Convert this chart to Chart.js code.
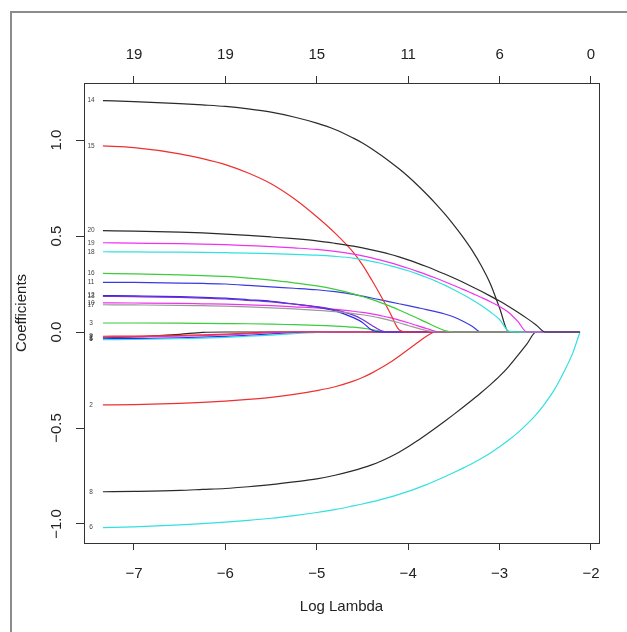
<!DOCTYPE html>
<html>
<head>
<meta charset="utf-8">
<script src="https://cdn.jsdelivr.net/npm/chart.js@4.4.1/dist/chart.umd.min.js"></script>
<style>
html, body { margin: 0; padding: 0; background: #fff; }
</style>
</head>
<body>
<canvas id="mycanvas" width="627" height="632"></canvas>
<script>
// log(lambda) grid shared by every path
var logLambda = [-7.34, -7.0, -6.5, -6.25, -6.0, -5.75, -5.5, -5.25, -5.0, -4.8, -4.6, -4.5, -4.4, -4.3, -4.2, -4.1,
	-4.0, -3.9, -3.8, -3.7, -3.6, -3.5, -3.4, -3.3, -3.2, -3.1, -3.0, -2.9, -2.8, -2.7, -2.6, -2.5, -2.4, -2.3, -2.2, -2.12];

var xTicks = [-7, -6, -5, -4, -3, -2];
var topCounts = ["19", "19", "15", "11", "6", "0"];
var yTicks = [-1.0, -0.5, 0.0, 0.5, 1.0];

// coefficient paths (one per variable)
var coef20 = [0.528, 0.525, 0.520, 0.516, 0.510, 0.503, 0.495, 0.486, 0.475, 0.462, 0.447, 0.438, 0.428, 0.417, 0.405, 0.391, 0.376, 0.359, 0.341, 0.322, 0.302, 0.281, 0.259, 0.236, 0.212, 0.187, 0.161, 0.133, 0.103, 0.071, 0.037, 0, 0, 0, 0, 0];
var coef19 = [0.465, 0.463, 0.460, 0.458, 0.455, 0.450, 0.445, 0.438, 0.430, 0.420, 0.406, 0.397, 0.386, 0.374, 0.361, 0.347, 0.332, 0.316, 0.299, 0.281, 0.262, 0.242, 0.222, 0.201, 0.180, 0.158, 0.133, 0.102, 0.055, 0, 0, 0, 0, 0, 0, 0];
var coef18 = [0.418, 0.417, 0.416, 0.415, 0.413, 0.411, 0.408, 0.404, 0.400, 0.394, 0.385, 0.377, 0.368, 0.358, 0.346, 0.333, 0.319, 0.303, 0.285, 0.265, 0.244, 0.220, 0.195, 0.168, 0.138, 0.104, 0.065, 0.005, 0, 0, 0, 0, 0, 0, 0, 0];
var coef17 = [0.142, 0.141, 0.139, 0.137, 0.135, 0.131, 0.126, 0.120, 0.113, 0.106, 0.096, 0.090, 0.082, 0.072, 0.061, 0.048, 0.034, 0.020, 0.008, 0, 0, 0, 0, 0, 0, 0, 0, 0, 0, 0, 0, 0, 0, 0, 0, 0];
var coef16 = [0.305, 0.303, 0.298, 0.294, 0.290, 0.281, 0.270, 0.256, 0.240, 0.222, 0.199, 0.185, 0.170, 0.153, 0.135, 0.115, 0.094, 0.072, 0.050, 0.027, 0.007, 0, 0, 0, 0, 0, 0, 0, 0, 0, 0, 0, 0, 0, 0, 0];
var coef15 = [0.969, 0.960, 0.928, 0.903, 0.872, 0.828, 0.772, 0.695, 0.600, 0.515, 0.415, 0.350, 0.272, 0.189, 0.102, 0.012, 0, 0, 0, 0, 0, 0, 0, 0, 0, 0, 0, 0, 0, 0, 0, 0, 0, 0, 0, 0];
var coef14 = [1.205, 1.200, 1.190, 1.183, 1.175, 1.162, 1.145, 1.120, 1.088, 1.055, 1.010, 0.985, 0.955, 0.922, 0.887, 0.850, 0.810, 0.766, 0.719, 0.669, 0.615, 0.557, 0.494, 0.425, 0.345, 0.250, 0.125, 0, 0, 0, 0, 0, 0, 0, 0, 0];
var coef13 = [0.186, 0.184, 0.180, 0.176, 0.172, 0.165, 0.157, 0.145, 0.132, 0.115, 0.088, 0.065, 0.035, 0.008, 0, 0, 0, 0, 0, 0, 0, 0, 0, 0, 0, 0, 0, 0, 0, 0, 0, 0, 0, 0, 0, 0];
var coef12 = [0.190, 0.188, 0.184, 0.180, 0.176, 0.168, 0.160, 0.146, 0.130, 0.110, 0.075, 0.050, 0.010, 0, 0, 0, 0, 0, 0, 0, 0, 0, 0, 0, 0, 0, 0, 0, 0, 0, 0, 0, 0, 0, 0, 0];
var coef11 = [0.259, 0.258, 0.255, 0.253, 0.250, 0.243, 0.235, 0.228, 0.220, 0.210, 0.196, 0.187, 0.177, 0.167, 0.157, 0.147, 0.137, 0.127, 0.117, 0.106, 0.094, 0.078, 0.056, 0.030, 0, 0, 0, 0, 0, 0, 0, 0, 0, 0, 0, 0];
var coef10 = [0.152, 0.151, 0.149, 0.147, 0.145, 0.141, 0.137, 0.131, 0.125, 0.118, 0.108, 0.102, 0.094, 0.085, 0.075, 0.062, 0.048, 0.033, 0.018, 0.004, 0, 0, 0, 0, 0, 0, 0, 0, 0, 0, 0, 0, 0, 0, 0, 0];
var coef9 = [-0.022, -0.021, -0.018, -0.015, -0.011, -0.006, 0, 0, 0, 0, 0, 0, 0, 0, 0, 0, 0, 0, 0, 0, 0, 0, 0, 0, 0, 0, 0, 0, 0, 0, 0, 0, 0, 0, 0, 0];
var coef8 = [-0.832, -0.830, -0.825, -0.820, -0.815, -0.806, -0.795, -0.781, -0.765, -0.746, -0.722, -0.708, -0.692, -0.673, -0.651, -0.626, -0.598, -0.567, -0.534, -0.500, -0.465, -0.429, -0.392, -0.354, -0.315, -0.274, -0.230, -0.180, -0.122, -0.062, 0, 0, 0, 0, 0, 0];
var coef7 = [-0.026, -0.025, -0.022, -0.019, -0.015, -0.010, -0.004, 0, 0, 0, 0, 0, 0, 0, 0, 0, 0, 0, 0, 0, 0, 0, 0, 0, 0, 0, 0, 0, 0, 0, 0, 0, 0, 0, 0, 0];
var coef6 = [-1.019, -1.015, -1.005, -0.998, -0.990, -0.981, -0.970, -0.956, -0.940, -0.925, -0.906, -0.896, -0.885, -0.873, -0.860, -0.846, -0.830, -0.813, -0.795, -0.775, -0.754, -0.732, -0.709, -0.685, -0.659, -0.630, -0.598, -0.563, -0.524, -0.480, -0.430, -0.370, -0.300, -0.212, -0.110, 0];
var coef5 = [-0.040, -0.039, -0.035, -0.032, -0.028, -0.022, -0.016, -0.009, -0.002, 0, 0, 0, 0, 0, 0, 0, 0, 0, 0, 0, 0, 0, 0, 0, 0, 0, 0, 0, 0, 0, 0, 0, 0, 0, 0, 0];
var coef4 = [-0.035, -0.034, -0.030, -0.027, -0.023, -0.017, -0.010, -0.003, 0, 0, 0, 0, 0, 0, 0, 0, 0, 0, 0, 0, 0, 0, 0, 0, 0, 0, 0, 0, 0, 0, 0, 0, 0, 0, 0, 0];
var coef3 = [0.047, 0.047, 0.046, 0.045, 0.044, 0.043, 0.041, 0.038, 0.035, 0.031, 0.025, 0.020, 0.013, 0.004, 0, 0, 0, 0, 0, 0, 0, 0, 0, 0, 0, 0, 0, 0, 0, 0, 0, 0, 0, 0, 0, 0];
var coef2 = [-0.380, -0.378, -0.372, -0.367, -0.360, -0.351, -0.340, -0.325, -0.305, -0.285, -0.256, -0.237, -0.214, -0.188, -0.159, -0.126, -0.091, -0.056, -0.022, 0, 0, 0, 0, 0, 0, 0, 0, 0, 0, 0, 0, 0, 0, 0, 0, 0];
var coef1 = [-0.030, -0.026, -0.012, -0.002, 0, 0, 0, 0, 0, 0, 0, 0, 0, 0, 0, 0, 0, 0, 0, 0, 0, 0, 0, 0, 0, 0, 0, 0, 0, 0, 0, 0, 0, 0, 0, 0];

// drawn last-on-top: first dataset ends up on top
var varNames = ["20", "19", "18", "17", "16", "15", "14", "13", "12", "11", "10", "9", "8", "7", "6", "5", "4", "3", "2", "1"];
var varPaths = [coef20, coef19, coef18, coef17, coef16, coef15, coef14, coef13, coef12, coef11, coef10, coef9, coef8, coef7, coef6, coef5, coef4, coef3, coef2, coef1];
var varColors = ["#2a2a2a", "#ee33ee", "#33e0e0", "#9a9a9a", "#3ccc3c", "#ee3030", "#2a2a2a", "#7a2fd0", "#2a2aee", "#3a3ae0", "#ee33ee",
	"#ee3030", "#2a2a2a", "#ee33ee", "#33e0e0", "#33e0e0", "#2a2aee", "#3ccc3c", "#ee3030", "#2a2a2a"];

var FONT = '"Liberation Sans", Arial, Helvetica, sans-serif';

function fmt(v, digits) {
	var s = v.toFixed(digits);
	return v < 0 ? "\u2212" + s.slice(1) : s;
}

var datasets = [];
for (var i = 0; i < varNames.length; i++) {
	var pts = [];
	for (var j = 0; j < logLambda.length; j++) {
		pts.push({x: logLambda[j], y: varPaths[i][j]});
	}
	datasets.push({
		label: varNames[i],
		data: pts,
		borderColor: varColors[i],
		borderWidth: 1.2,
		pointRadius: 0,
		fill: false,
		cubicInterpolationMode: "monotone"
	});
}

var rPlot = {
	id: "rPlot",
	beforeDraw: function(chart) {
		var ctx = chart.ctx;
		ctx.save();
		ctx.strokeStyle = "#8c8c8c";
		ctx.lineWidth = 2;
		ctx.beginPath();
		ctx.moveTo(11, 632);
		ctx.lineTo(11, 12);
		ctx.lineTo(627, 12);
		ctx.stroke();
		ctx.restore();
	},
	afterDraw: function(chart) {
		var ctx = chart.ctx, a = chart.chartArea, ys = chart.scales.y;
		ctx.save();
		ctx.strokeStyle = "#333";
		ctx.lineWidth = 1;
		ctx.strokeRect(a.left + 0.5, a.top + 0.5, a.right - a.left, a.bottom - a.top);

		ctx.fillStyle = "#222";
		ctx.font = "15px " + FONT;
		ctx.textAlign = "center";
		ctx.textBaseline = "middle";
		yTicks.forEach(function(v) {
			ctx.save();
			ctx.translate(57, ys.getPixelForValue(v));
			ctx.rotate(-Math.PI / 2);
			ctx.fillText(fmt(v, 1), 0, 0);
			ctx.restore();
		});
		ctx.fillText("Log Lambda", (a.left + a.right) / 2, 607);
		ctx.save();
		ctx.translate(22, (a.top + a.bottom) / 2);
		ctx.rotate(-Math.PI / 2);
		ctx.fillText("Coefficients", 0, 0);
		ctx.restore();

		// variable index at the start of each path
		ctx.font = "6.5px " + FONT;
		ctx.fillStyle = "#444";
		chart.data.datasets.forEach(function(ds) {
			ctx.fillText(ds.label, a.left + 7, ys.getPixelForValue(ds.data[0].y));
		});
		ctx.restore();
	}
};

var ctx = document.getElementById("mycanvas");

var PathPlot = new Chart(ctx, {
	type: "line",
	data: { datasets: datasets },
	options: {
		responsive: false,
		animation: false,
		devicePixelRatio: 1,
		layout: { padding: { left: 0, right: 28, top: 0, bottom: 0 } },
		plugins: { legend: { display: false }, tooltip: { enabled: false } },
		scales: {
			x: {
				type: "linear", position: "bottom", min: -7.547, max: -1.912,
				afterBuildTicks: function(s) { s.ticks = xTicks.map(function(v) { return {value: v}; }); },
				afterFit: function(s) { s.height = 89; },
				grid: { drawOnChartArea: false, tickLength: 7, color: "#333", tickColor: "#333" },
				border: { color: "#333" },
				ticks: { padding: 15, color: "#222", font: { family: FONT, size: 15 }, maxRotation: 0,
					callback: function(v) { return fmt(v, 0); } }
			},
			xTop: {
				type: "linear", position: "top", min: -7.547, max: -1.912,
				afterBuildTicks: function(s) { s.ticks = xTicks.map(function(v) { return {value: v}; }); },
				afterFit: function(s) { s.height = 83; },
				grid: { drawOnChartArea: false, tickLength: 7, color: "#333", tickColor: "#333" },
				border: { color: "#333" },
				ticks: { padding: 12, color: "#222", font: { family: FONT, size: 15 }, maxRotation: 0,
					callback: function(v) { return topCounts[xTicks.indexOf(v)]; } }
			},
			y: {
				type: "linear", position: "left", min: -1.099, max: 1.297,
				afterBuildTicks: function(s) { s.ticks = yTicks.map(function(v) { return {value: v}; }); },
				afterFit: function(s) { s.width = 84; },
				grid: { drawOnChartArea: false, tickLength: 8, color: "#333", tickColor: "#333" },
				border: { color: "#333" },
				ticks: { display: false }
			}
		}
	},
	plugins: [rPlot]
});
</script>
</body>
</html>
